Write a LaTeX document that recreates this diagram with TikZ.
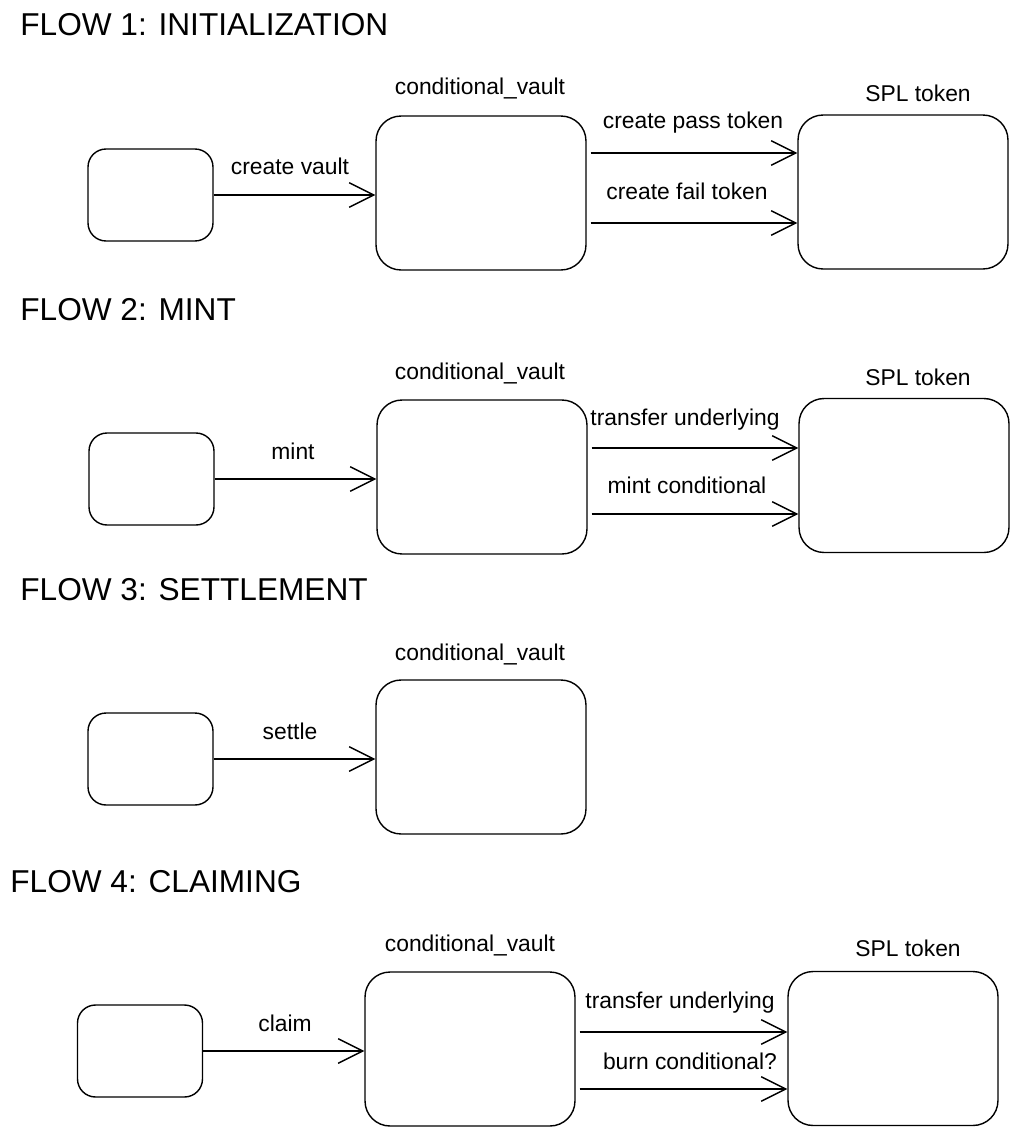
\documentclass[tikz,border=0pt]{standalone}
\usepackage{fontspec}
\setmainfont{Liberation Sans}
\usepackage{tikz}
\usetikzlibrary{positioning,arrows.meta}

\tikzset{
  srcbox/.style={draw,line width=0.8pt,rounded corners=0.36cm,minimum width=2.5cm,minimum height=1.84cm,inner sep=0pt},
  bigbox/.style={draw,line width=0.8pt,rounded corners=0.5cm,minimum width=4.2cm,minimum height=3.08cm,inner sep=0pt},
  flow/.style={line width=0.8pt,-{Straight Barb[length=14pt,width=14pt,line width=0.8pt]}},
  lbl/.style={font=\fontsize{13}{15}\selectfont,inner sep=1pt},
  ttl/.style={font=\fontsize{18}{21}\selectfont,anchor=west,inner sep=0pt}
}

\begin{document}
\begin{tikzpicture}[x=0.02cm,y=-0.02cm]
\useasboundingbox (0,0) rectangle (1019,1136);

% flow 1
\node[ttl] (t1) at (20,25) {FLOW 1: INITIALIZATION};
\node[srcbox] (src1) at (150.5,195) {};
\node[bigbox] (vault1) at (481,193) {};
\node[bigbox] (spl1) at (903,192) {};
\node[lbl] (vl1) at (480,88) {conditional\_vault};
\node[lbl] (sl1) at (918,93) {SPL token};
\draw[flow] (src1.east) -- (src1.east -| vault1.west);
\node[lbl] (cv) at (290,166) {create vault};
\draw[flow] ([xshift=0.08cm,yshift=0.8cm]vault1.east) -- ([yshift=0.8cm]vault1.east -| spl1.west);
\node[lbl] (cp) at (693,123) {create pass token};
\draw[flow] ([xshift=0.08cm,yshift=-0.6cm]vault1.east) -- ([yshift=-0.6cm]vault1.east -| spl1.west);
\node[lbl] (cf) at (687,191) {create fail token};

% flow 2
\node[ttl] (t2) at (20,310) {FLOW 2: MINT};
\node[srcbox] (src2) at (151.5,479) {};
\node[bigbox] (vault2) at (482,477) {};
\node[bigbox] (spl2) at (904,475.5) {};
\node[lbl] (vl2) at (480,373) {conditional\_vault};
\node[lbl] (sl2) at (918,377) {SPL token};
\draw[flow] (src2.east) -- (src2.east -| vault2.west);
\node[lbl] (mt) at (293,451) {mint};
\draw[flow] ([xshift=0.08cm,yshift=0.58cm]vault2.east) -- ([yshift=0.58cm]vault2.east -| spl2.west);
\node[lbl] (tu2) at (685,420) {transfer underlying};
\draw[flow] ([xshift=0.08cm,yshift=-0.74cm]vault2.east) -- ([yshift=-0.74cm]vault2.east -| spl2.west);
\node[lbl] (mc) at (687,485) {mint conditional};

% flow 3
\node[ttl] (t3) at (20,590) {FLOW 3: SETTLEMENT};
\node[srcbox] (src3) at (150.5,759) {};
\node[bigbox] (vault3) at (481,757) {};
\node[lbl] (vl3) at (480,654) {conditional\_vault};
\draw[flow] (src3.east) -- (src3.east -| vault3.west);
\node[lbl] (st) at (290,731) {settle};

% flow 4
\node[ttl] (t4) at (10,882) {FLOW 4: CLAIMING};
\node[srcbox] (src4) at (140,1051) {};
\node[bigbox] (vault4) at (470,1049) {};
\node[bigbox] (spl4) at (893,1048.5) {};
\node[lbl] (vl4) at (470,945) {conditional\_vault};
\node[lbl] (sl4) at (908,948) {SPL token};
\draw[flow] (src4.east) -- (src4.east -| vault4.west);
\node[lbl] (cl) at (285,1023) {claim};
\draw[flow] ([xshift=0.08cm,yshift=0.34cm]vault4.east) -- ([yshift=0.34cm]vault4.east -| spl4.west);
\node[lbl] (tu4) at (680,1003) {transfer underlying};
\draw[flow] ([xshift=0.08cm,yshift=-0.8cm]vault4.east) -- ([yshift=-0.8cm]vault4.east -| spl4.west);
\node[lbl] (bc) at (690,1061) {burn conditional?};
\end{tikzpicture}
\end{document}
